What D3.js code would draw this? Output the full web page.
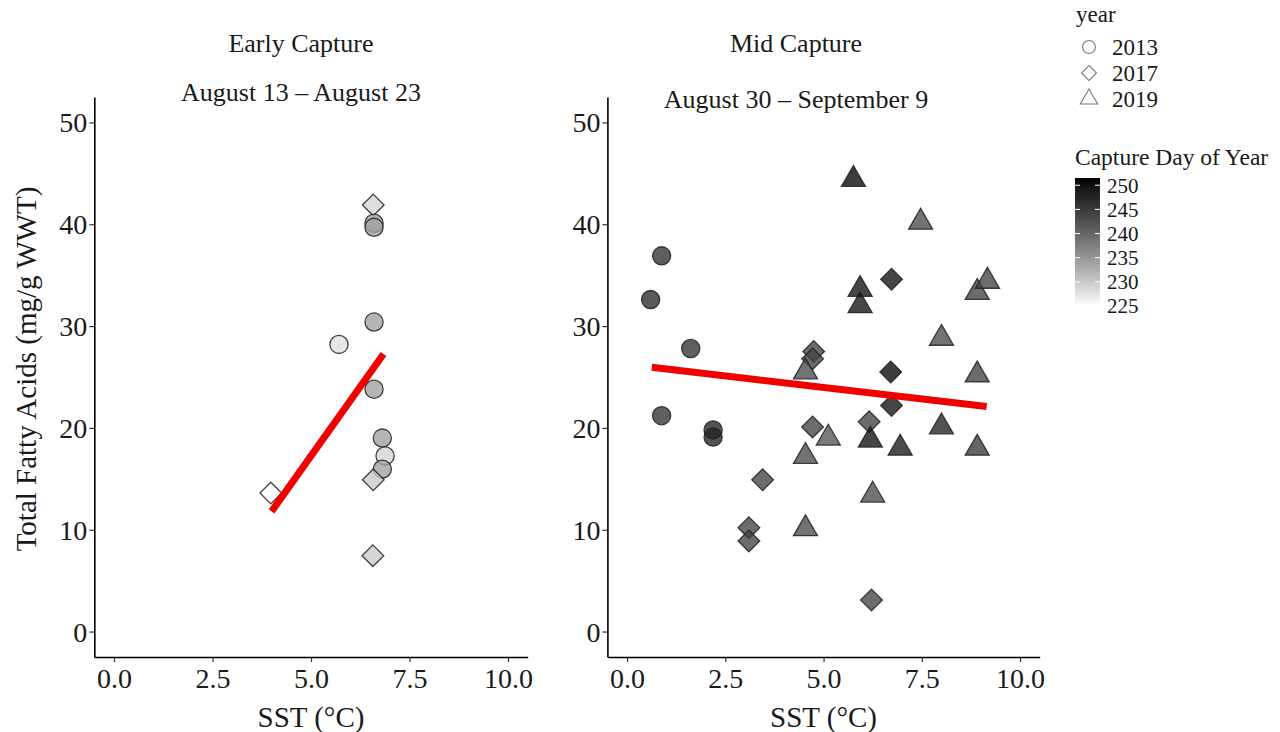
<!DOCTYPE html>
<html lang="en">
<head>
  <meta charset="UTF-8">
  <title>Total fatty acids vs SST</title>
  <style>
    body { margin: 0; background: #fff; }
    text { font-family: "Liberation Serif", "Times New Roman", serif; fill: #1a1a1a; }
  </style>
</head>
<body>
  <svg class="chart"></svg>
  <script src="https://cdn.jsdelivr.net/npm/d3@7"></script>
  <script>
    // early capture (Aug 13 - Aug 23)
    let earlySST = [6.58, 6.60, 6.60, 6.60, 5.71, 6.60, 6.81, 6.88, 6.81, 6.58, 3.98, 6.57]
    let earlyTFA = [41.9, 40.1, 39.7, 30.4, 28.2, 23.8, 19.0, 17.25, 15.95, 14.9, 13.6, 7.45]
    let earlyYear = [2017, 2013, 2013, 2013, 2013, 2013, 2013, 2013, 2013, 2017, 2017, 2017]
    let earlyDay = [229, 234, 234, 234, 228, 234, 234, 229, 234, 230, 225, 230]
    let earlyFitX = [4.0, 6.84]
    let earlyFitY = [11.8, 27.25]

    // mid capture (Aug 30 - Sep 9)
    let midSST = [0.88, 0.60, 1.62, 0.88, 2.19, 2.19,
      3.45, 3.10, 3.10, 4.72, 4.75, 4.72, 6.73, 6.71, 6.73, 6.16, 6.22,
      4.54, 4.54, 4.54, 5.76, 7.47, 5.93, 5.93, 8.91, 9.17, 8.00, 8.91,
      8.00, 6.19, 6.95, 8.91, 5.12, 6.25]
    let midTFA = [36.9, 32.6, 27.8, 21.2, 19.8, 19.1,
      14.9, 10.2, 8.9, 20.1, 27.5, 26.8, 34.6, 25.5, 22.2, 20.6, 3.1,
      10.1, 17.2, 25.5, 44.4, 40.2, 33.6, 32.0, 33.3, 34.4, 28.8, 25.2,
      20.1, 18.8, 18.0, 18.0, 19.0, 13.4]
    let midYear = [2013, 2013, 2013, 2013, 2013, 2013,
      2017, 2017, 2017, 2017, 2017, 2017, 2017, 2017, 2017, 2017, 2017,
      2019, 2019, 2019, 2019, 2019, 2019, 2019, 2019, 2019, 2019, 2019,
      2019, 2019, 2019, 2019, 2019, 2019]
    let midDay = [246, 247, 246, 246, 248, 248,
      244, 244, 244, 244, 244, 244, 250, 251, 250, 244, 244,
      243, 243, 243, 251, 243, 250, 250, 244, 244, 243, 244,
      248, 250, 249, 245, 242, 243]
    let midFitX = [0.63, 9.15]
    let midFitY = [25.95, 22.1]

    let years = [2013, 2017, 2019]
    let dayTicks = [225, 230, 235, 240, 245, 250]
    let sstTicks = [0, 2.5, 5, 7.5, 10]
    let tfaTicks = [0, 10, 20, 30, 40, 50]

    let svgWidth = 1280, svgHeight = 732
    let svg = d3.select('svg')
      .attr('width', svgWidth)
      .attr('height', svgHeight)

    let color = d3.scaleLinear()
      .domain([225, 251.5])
      .range(['#ffffff', '#000000'])
      .interpolate(d3.interpolateLab)
      .clamp(true)

    let symbolFor = { 2013: d3.symbolCircle, 2017: d3.symbolSquare, 2019: d3.symbolTriangle }
    let sizeFor = { 2013: 260, 2017: 235, 2019: 250 }

    function shape(year, size) {
      return d3.symbol().type(symbolFor[year]).size(size || sizeFor[year])()
    }

    function panel(opts) {
      let x = d3.scaleLinear().domain([-0.5, 10.5]).range(opts.xRange)
      let y = d3.scaleLinear().domain([-2.5, 52.5]).range([657, 97])
      let g = svg.append('g')

      // axes
      let xAxis = g.append('g')
        .attr('transform', `translate(0,${y.range()[0]})`)
        .call(d3.axisBottom(x).tickValues(sstTicks).tickFormat(d3.format('.1f')).tickSize(5).tickSizeOuter(0))
      let yAxis = g.append('g')
        .attr('transform', `translate(${x.range()[0]},0)`)
        .call(d3.axisLeft(y).tickValues(tfaTicks).tickSize(5).tickSizeOuter(0))
      ;[xAxis, yAxis].forEach(a => {
        a.select('.domain').attr('stroke', '#000').attr('stroke-width', 1.6)
        a.selectAll('.tick line').attr('stroke', '#333').attr('stroke-width', 1.2)
        a.selectAll('.tick text')
          .style('font-family', '"Liberation Serif", serif')
          .style('font-size', '28px')
          .attr('fill', '#1a1a1a')
      })
      xAxis.selectAll('.tick text').attr('dy', '0.9em').attr('y', 6)
      yAxis.selectAll('.tick text').attr('x', -7).attr('dy', '0.34em')

      // points
      let pts = opts.sst.map((s, i) => ({ sst: s, tfa: opts.tfa[i], year: opts.year[i], day: opts.day[i] }))
      g.selectAll('path.pt')
        .data(pts)
        .enter()
        .append('path')
        .attr('class', 'pt')
        .attr('d', d => shape(d.year))
        .attr('transform', d => `translate(${x(d.sst)},${y(d.tfa)})` + (d.year === 2017 ? ' rotate(45)' : ''))
        .attr('fill', d => color(d.day))
        .attr('fill-opacity', 0.78)
        .attr('stroke', '#222')
        .attr('stroke-opacity', 0.85)
        .attr('stroke-width', 1.3)

      // fit line
      g.append('line')
        .attr('x1', x(opts.fitX[0])).attr('y1', y(opts.fitY[0]))
        .attr('x2', x(opts.fitX[1])).attr('y2', y(opts.fitY[1]))
        .attr('stroke', '#f20000')
        .attr('stroke-width', 7)

      // titles
      g.append('text')
        .attr('x', opts.titleX).attr('y', 52)
        .attr('text-anchor', 'middle')
        .style('font-size', '26px')
        .text(opts.title)
      g.append('text')
        .attr('x', opts.titleX).attr('y', opts.subY)
        .attr('text-anchor', 'middle')
        .style('font-size', '26px')
        .text(opts.sub)
      g.append('text')
        .attr('x', (x.range()[0] + x.range()[1]) / 2).attr('y', 727)
        .attr('text-anchor', 'middle')
        .style('font-size', '29px')
        .text('SST (°C)')
      return g
    }

    panel({
      xRange: [94.3, 527.7], sst: earlySST, tfa: earlyTFA, year: earlyYear, day: earlyDay,
      fitX: earlyFitX, fitY: earlyFitY, title: 'Early Capture', sub: 'August 13 – August 23',
      titleX: 301, subY: 101
    })
    panel({
      xRange: [607.4, 1039.7], sst: midSST, tfa: midTFA, year: midYear, day: midDay,
      fitX: midFitX, fitY: midFitY, title: 'Mid Capture', sub: 'August 30 – September 9',
      titleX: 796, subY: 108
    })

    svg.append('text')
      .attr('transform', 'translate(36,369) rotate(-90)')
      .attr('text-anchor', 'middle')
      .style('font-size', '29px')
      .text('Total Fatty Acids (mg/g WWT)')

    // legend: year shapes
    let leg = svg.append('g')
    leg.append('text').attr('x', 1076).attr('y', 22).style('font-size', '23px').text('year')
    let item = leg.selectAll('g.item')
      .data(years)
      .enter()
      .append('g')
      .attr('transform', (d, i) => `translate(1089,${47 + i * 26})`)
    item.append('path')
      .attr('d', d => shape(d, d === 2017 ? 110 : 130))
      .attr('transform', d => d === 2017 ? 'rotate(45)' : '')
      .attr('fill', 'none')
      .attr('stroke', '#777')
      .attr('stroke-width', 1.1)
    item.append('text')
      .attr('x', 23).attr('dy', '0.35em')
      .style('font-size', '23px')
      .text(d => d)

    // legend: colour bar
    leg.append('text').attr('x', 1075).attr('y', 165).style('font-size', '23.5px').text('Capture Day of Year')
    let barY = d3.scaleLinear().domain([225, 251.5]).range([306, 178])
    let grad = svg.append('defs').append('linearGradient')
      .attr('id', 'dayGrad')
      .attr('x1', 0).attr('y1', 1).attr('x2', 0).attr('y2', 0)
    d3.range(0, 1.0001, 0.1).forEach(t => {
      grad.append('stop')
        .attr('offset', t)
        .attr('stop-color', color(225 + t * 26.5))
    })
    leg.append('rect')
      .attr('x', 1075).attr('y', barY(251.5))
      .attr('width', 25).attr('height', barY(225) - barY(251.5))
      .attr('fill', 'url(#dayGrad)')
    let barTicks = leg.selectAll('g.btick')
      .data(dayTicks)
      .enter()
      .append('g')
      .attr('transform', d => `translate(0,${barY(d)})`)
    barTicks.filter(d => d > 225).append('line')
      .attr('x1', 1075).attr('x2', 1080).attr('stroke', '#fff').attr('stroke-width', 1)
    barTicks.filter(d => d > 225).append('line')
      .attr('x1', 1095).attr('x2', 1100).attr('stroke', '#fff').attr('stroke-width', 1)
    barTicks.append('text')
      .attr('x', 1107).attr('dy', '0.35em')
      .style('font-size', '21px')
      .text(d => d)
  </script>
</body>
</html>
